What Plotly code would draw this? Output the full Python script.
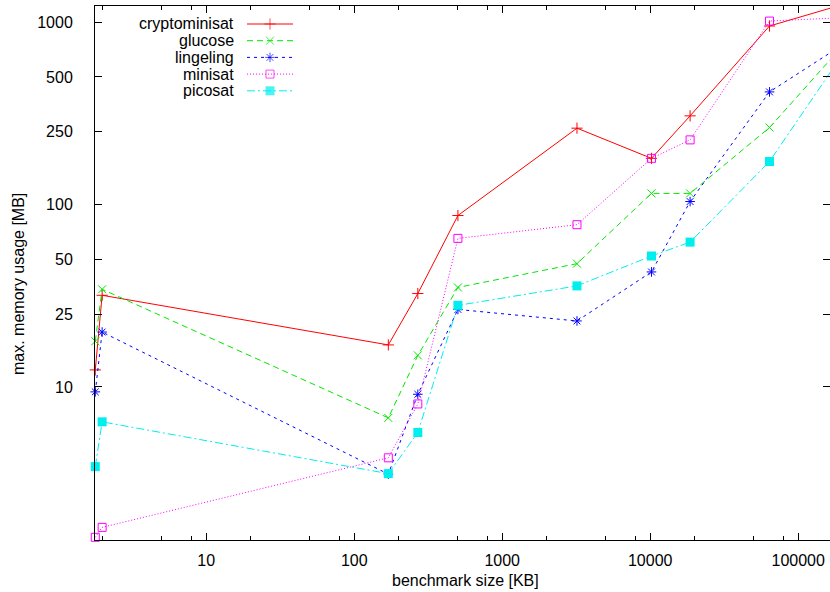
import math
import plotly.graph_objects as go

# ---- data ----
sizes_kb = [1.78, 1.98, 170, 269, 502, 3200, 10200, 18600, 64000, 170000]
cryptominisat = [12.4, 31.8, 17.0, 32.5, 87, 262, 179, 306, 951, 1200]
glucose = [17.8, 34.3, 6.77, 14.9, 35.1, 47.4, 115, 115, 264, 640]
lingeling = [9.4, 20.0, 3.33, 9.12, 26.6, 23.0, 42.7, 103.8, 414, 690]
minisat = [1.50, 1.70, 4.09, 8.07, 65.2, 77.5, 179, 226, 1012, 1050]
picosat = [3.66, 6.44, 3.35, 5.63, 28.0, 35.8, 52.2, 62.2, 172, 550]

solver_names = ["cryptominisat", "glucose", "lingeling", "minisat", "picosat"]
x_tick_vals = [10, 100, 1000, 10000, 100000]
x_tick_text = ["10", "100", "1000", "10000", "100000"]
y_tick_vals = [10, 25, 50, 100, 250, 500, 1000]
y_tick_text = ["10", "25", "50", "100", "250", "500", "1000"]

series_values = [cryptominisat, glucose, lingeling, minisat, picosat]

styles = [
    dict(color="#ff0000", dash="solid", symbol="cross-thin", size=8),
    dict(color="#00e800", dash="6px,4px", symbol="x-thin", size=8),
    dict(color="#0000ff", dash="3px,4px", symbol="asterisk", size=8),
    dict(color="#ff00ff", dash="1px,2px", symbol="square-open", size=8),
    dict(color="#00eeee", dash="8px,3px,2px,3px", symbol="square", size=9),
]

FONT = "Liberation Sans, Arial, sans-serif"
FS = 16
W, H = 830, 592
ML, MR, MT, MB = 95, 0, 6, 52
PW, PH = W - ML - MR, H - MT - MB

fig = go.Figure()

for name, vals, st in zip(solver_names, series_values, styles):
    filled = st["symbol"] == "square"
    fig.add_trace(go.Scatter(
        x=sizes_kb, y=vals, name=name, mode="lines+markers",
        line=dict(color=st["color"], width=1, dash=st["dash"]),
        marker=dict(symbol=st["symbol"], size=st["size"], color=st["color"],
                    line=dict(width=0 if filled else 1, color=st["color"])),
        cliponaxis=False, showlegend=False,
    ))

# ---- gnuplot-style key (text on the left, sample on the right) ----
def px_x(px):
    return (px - ML) / PW

def px_y(py):
    return 1 - (py - MT) / PH

annotations = []
for i, (name, st) in enumerate(zip(solver_names, styles)):
    row = 24 + 16.7 * i
    yy = px_y(row)
    filled = st["symbol"] == "square"
    fig.add_trace(go.Scatter(
        x=[px_x(247), px_x(270), px_x(293)], y=[yy, yy, yy],
        xaxis="x2", yaxis="y2", mode="lines+markers",
        line=dict(color=st["color"], width=1, dash=st["dash"]),
        marker=dict(symbol=st["symbol"], size=[0, st["size"], 0], color=st["color"],
                    line=dict(width=0 if filled else 1, color=st["color"])),
        showlegend=False, hoverinfo="skip", cliponaxis=False,
    ))
    annotations.append(dict(
        x=px_x(236), y=yy, xref="paper", yref="paper", text=name,
        xanchor="right", yanchor="middle", showarrow=False,
        font=dict(family=FONT, size=FS, color="black"),
    ))

annotations.append(dict(
    x=px_x(465), y=0, xref="paper", yref="paper", yshift=-40,
    text="benchmark size [KB]", showarrow=False, xanchor="center", yanchor="middle",
    font=dict(family=FONT, size=FS, color="black"),
))
annotations.append(dict(
    x=0, y=px_y(284), xref="paper", yref="paper", xshift=18 - ML,
    text="max. memory usage [MB]", showarrow=False, textangle=-90,
    xanchor="center", yanchor="middle",
    font=dict(family=FONT, size=FS, color="black"),
))

minor_x = [m * 10 ** d for d in range(0, 6) for m in (2, 5, 8)]

fig.update_layout(
    width=W, height=H,
    margin=dict(l=ML, r=MR, t=MT, b=MB, pad=0),
    paper_bgcolor="white", plot_bgcolor="white",
    font=dict(family=FONT, size=FS, color="black"),
    showlegend=False,
    annotations=annotations,
    xaxis=dict(
        type="log", range=[math.log10(1.772), math.log10(164000)],
        tickmode="array", tickvals=x_tick_vals, ticktext=x_tick_text,
        ticks="inside", ticklen=7, tickcolor="black", tickwidth=1,
        showline=True, linecolor="black", linewidth=1, mirror="allticks",
        showgrid=False, zeroline=False, ticklabelstandoff=6,
        minor=dict(tickmode="array", tickvals=minor_x, ticks="inside",
                   ticklen=4, tickcolor="black", tickwidth=1, showgrid=False),
    ),
    yaxis=dict(
        type="log", range=[math.log10(1.45), math.log10(1224)],
        tickmode="array", tickvals=y_tick_vals, ticktext=y_tick_text,
        ticks="inside", ticklen=7, tickcolor="black", tickwidth=1,
        showline=True, linecolor="black", linewidth=1, mirror="allticks",
        showgrid=False, zeroline=False, ticklabelstandoff=18,
    ),
    xaxis2=dict(domain=[0, 1], range=[0, 1], overlaying="x", anchor="y2",
                visible=False, fixedrange=True),
    yaxis2=dict(domain=[0, 1], range=[0, 1], overlaying="y", anchor="x2",
                visible=False, fixedrange=True),
)

fig.write_html(
    "out.html",
    config={"displayModeBar": False},
    post_script="document.body.style.margin='0';document.body.style.overflow='hidden';",
)
